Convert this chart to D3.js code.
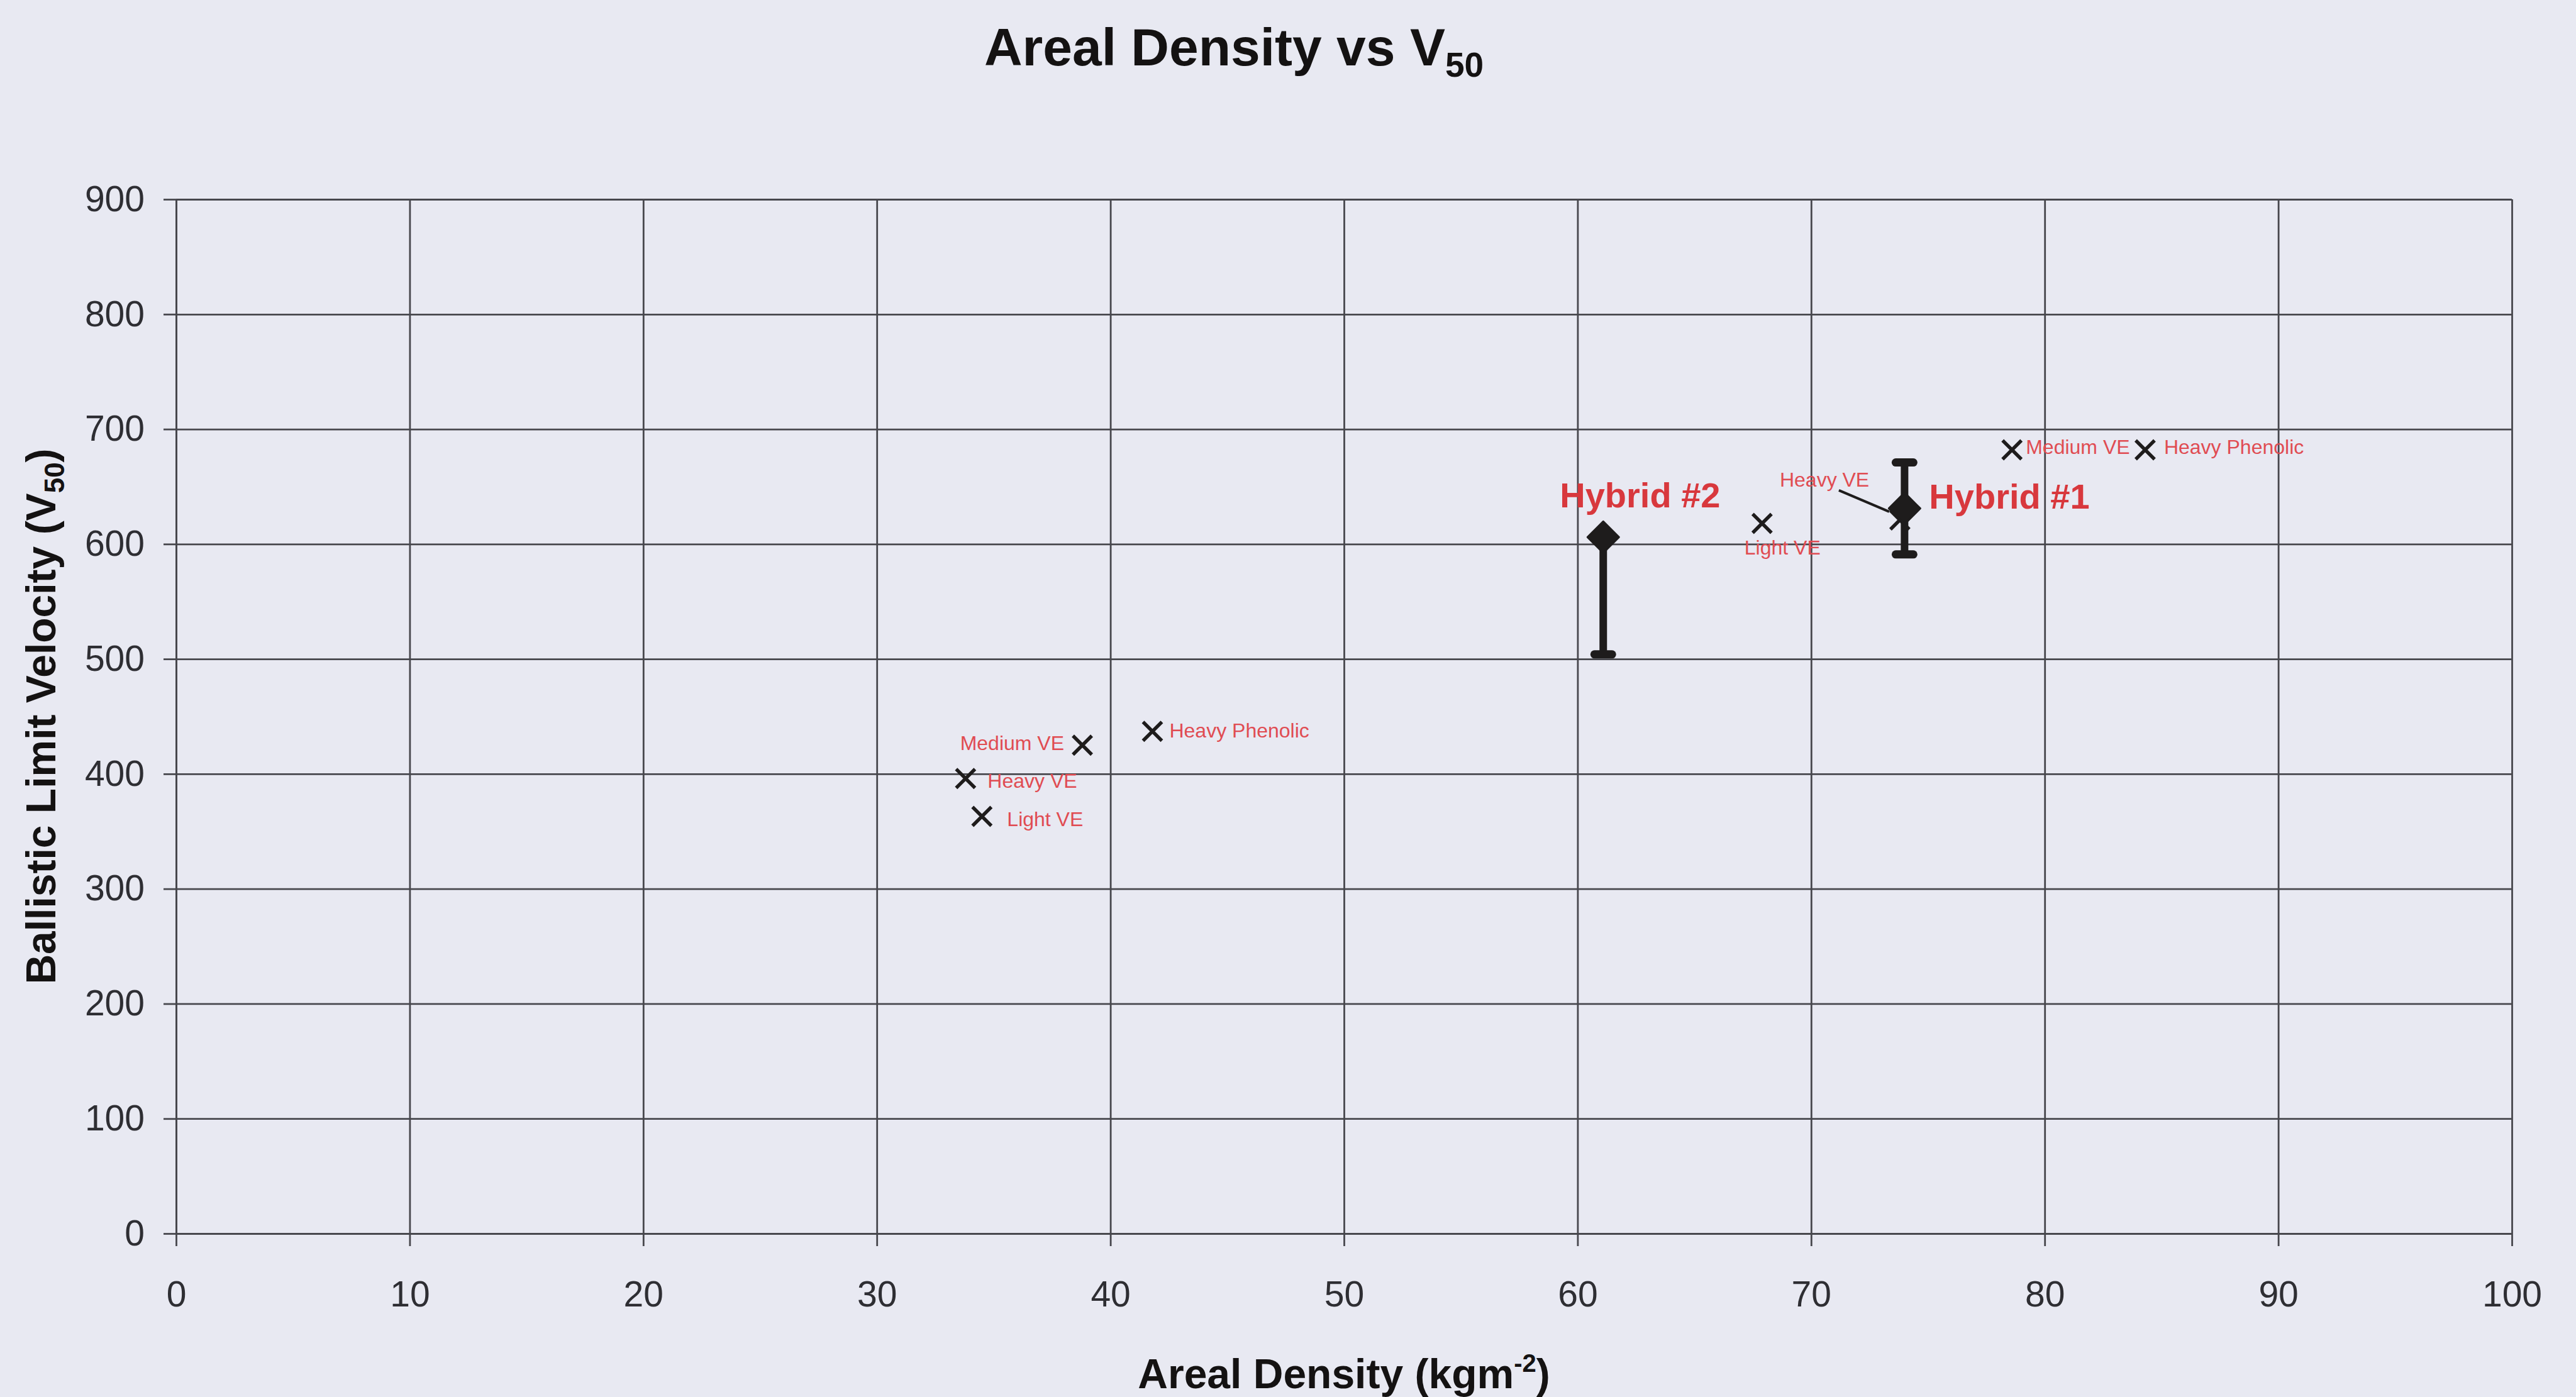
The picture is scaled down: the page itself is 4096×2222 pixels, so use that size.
<!DOCTYPE html>
<html>
<head>
<meta charset="utf-8">
<script src="https://cdn.jsdelivr.net/npm/d3@7"></script>
<style>
  html, body { margin: 0; padding: 0; background: #e8e9f2; }
  svg { display: block; font-family: "Liberation Sans", Arial, Helvetica, sans-serif; }
</style>
</head>
<body>
<div id="chart"></div>
<script>
(function(){
  // axis ticks
  const xTicks = [0, 10, 20, 30, 40, 50, 60, 70, 80, 90, 100];
  const yTicks = [0, 100, 200, 300, 400, 500, 600, 700, 800, 900];

  // single test points (x markers)
  const pointNames = ["Medium VE", "Heavy VE", "Light VE", "Heavy Phenolic",
                      "Light VE", "Heavy VE", "Medium VE", "Heavy Phenolic"];
  const pointX = [38.8, 33.8, 34.5, 41.8, 67.9, 73.8, 78.6, 84.3];
  const pointY = [425, 396, 363, 437, 618, 621, 682, 682];

  // hybrid panels (diamond + error bar)
  const hybridNames = ["Hybrid #2", "Hybrid #1"];
  const hybridX = [61.1, 74.0];
  const hybridY = [606, 631];
  const hybridLow = [504, 591];
  const hybridHigh = [606, 671];

  // label placement relative to the marker: [dx, dy, anchor]
  const pointLabelPos = [
    [-29, 8, "end"], [35, 15, "start"], [40, 15, "start"], [27, 10, "start"],
    [-28, 50, "start"], [-191, -53, "start"], [22, 7, "start"], [30, 7, "start"]
  ];
  const hybridLabelPos = [[-69, -47], [39, 0]];

  const width = 4096;
  const height = 2222;
  const margin = { left: 280, right: 102, top: 317, bottom: 260 };
  const plotW = width - margin.left - margin.right;
  const plotH = height - margin.top - margin.bottom;

  const svg = d3.select("#chart")
    .append("svg")
    .attr("width", width)
    .attr("height", height);

  svg.append("rect")
    .attr("width", width)
    .attr("height", height)
    .attr("fill", "#e8e9f2");

  const g = svg.append("g")
    .attr("transform", `translate(${margin.left},${margin.top})`);

  const x = d3.scaleLinear().domain([0, 100]).range([0, plotW]);
  const y = d3.scaleLinear().domain([0, 900]).range([plotH, 0]);

  const gridColor = "#47474d";

  // grid lines
  g.append("g")
    .attr("class", "grid")
    .call(d3.axisLeft(y).tickValues(yTicks).tickSize(-plotW).tickFormat(""))
    .call(s => s.select(".domain").remove());
  g.append("g")
    .attr("class", "grid")
    .attr("transform", `translate(0,${plotH})`)
    .call(d3.axisBottom(x).tickValues(xTicks).tickSize(-plotH).tickFormat(""))
    .call(s => s.select(".domain").remove());
  g.selectAll(".grid line")
    .attr("stroke", gridColor)
    .attr("stroke-width", 2.8);

  // axes with outside ticks
  const yAxis = g.append("g")
    .call(d3.axisLeft(y).tickValues(yTicks).tickSize(20).tickSizeOuter(0).tickPadding(30));
  const xAxis = g.append("g")
    .attr("transform", `translate(0,${plotH})`)
    .call(d3.axisBottom(x).tickValues(xTicks).tickSize(20).tickSizeOuter(0).tickPadding(56));

  [yAxis, xAxis].forEach(a => {
    a.select(".domain").attr("stroke", gridColor).attr("stroke-width", 3);
    a.selectAll(".tick line").attr("stroke", gridColor).attr("stroke-width", 2.8);
    a.selectAll(".tick text")
      .attr("fill", "#2e2e33")
      .style("font-size", "57px")
      .style("font-family", "'Liberation Sans', Arial, sans-serif");
  });

  const labelRed = "#e04c52";
  const hybridRed = "#d8383d";
  const ink = "#1e1c1c";

  // leader from the right "Heavy VE" label to its point
  const hv = 5;
  g.append("line")
    .attr("x1", x(pointX[hv]) - 97)
    .attr("y1", y(pointY[hv]) - 47)
    .attr("x2", x(pointX[hv]) - 17)
    .attr("y2", y(pointY[hv]) - 13)
    .attr("stroke", ink)
    .attr("stroke-width", 4);

  // x markers
  const m = 15;
  pointX.forEach((px, i) => {
    const cx = x(px), cy = y(pointY[i]);
    g.append("path")
      .attr("d", `M${cx - m},${cy - m}L${cx + m},${cy + m}M${cx - m},${cy + m}L${cx + m},${cy - m}`)
      .attr("stroke", ink)
      .attr("stroke-width", 5.5)
      .attr("fill", "none");
  });

  // hybrid error bars and diamonds
  hybridX.forEach((hx, i) => {
    const cx = x(hx);
    g.append("line")
      .attr("x1", cx).attr("x2", cx)
      .attr("y1", y(hybridLow[i])).attr("y2", y(hybridHigh[i]))
      .attr("stroke", ink)
      .attr("stroke-width", 12);
    [hybridLow[i], hybridHigh[i]].forEach(v => {
      if (v === hybridY[i]) return;
      g.append("line")
        .attr("x1", cx - 14).attr("x2", cx + 14)
        .attr("y1", y(v)).attr("y2", y(v))
        .attr("stroke", ink)
        .attr("stroke-width", 13)
        .attr("stroke-linecap", "round");
    });
    const cy = y(hybridY[i]);
    const d = 25;
    g.append("path")
      .attr("d", `M${cx},${cy - d}L${cx + d},${cy}L${cx},${cy + d}L${cx - d},${cy}Z`)
      .attr("fill", ink)
      .attr("stroke", ink)
      .attr("stroke-width", 3)
      .attr("stroke-linejoin", "round");
  });

  // point labels
  pointNames.forEach((name, i) => {
    const p = pointLabelPos[i];
    g.append("text")
      .attr("x", x(pointX[i]) + p[0])
      .attr("y", y(pointY[i]) + p[1])
      .attr("text-anchor", p[2])
      .attr("fill", labelRed)
      .style("font-size", "32px")
      .text(name);
  });

  hybridNames.forEach((name, i) => {
    const p = hybridLabelPos[i];
    g.append("text")
      .attr("x", x(hybridX[i]) + p[0])
      .attr("y", y(hybridY[i]) + p[1])
      .attr("fill", hybridRed)
      .style("font-size", "56px")
      .style("font-weight", "bold")
      .text(name);
  });

  // titles
  const title = svg.append("text")
    .attr("x", 1962)
    .attr("y", 104)
    .attr("text-anchor", "middle")
    .attr("fill", "#141212")
    .style("font-size", "84px")
    .style("font-weight", "bold");
  title.append("tspan").text("Areal Density vs V");
  title.append("tspan").attr("dy", 18).style("font-size", "55px").text("50");

  const xTitle = svg.append("text")
    .attr("x", margin.left + plotW / 2)
    .attr("y", 2208)
    .attr("text-anchor", "middle")
    .attr("fill", "#141212")
    .style("font-size", "66px")
    .style("font-weight", "bold");
  xTitle.append("tspan").text("Areal Density (kgm");
  xTitle.append("tspan").attr("dy", -26).style("font-size", "40px").text("-2");
  xTitle.append("tspan").attr("dy", 26).text(")");

  const yTitle = svg.append("text")
    .attr("transform", `translate(88,${margin.top + plotH / 2}) rotate(-90)`)
    .attr("text-anchor", "middle")
    .attr("fill", "#141212")
    .style("font-size", "66px")
    .style("font-weight", "bold");
  yTitle.append("tspan").text("Ballistic Limit Velocity (V");
  yTitle.append("tspan").attr("dy", 14).style("font-size", "44px").text("50");
  yTitle.append("tspan").attr("dy", -14).text(")");
})();
</script>
</body>
</html>
